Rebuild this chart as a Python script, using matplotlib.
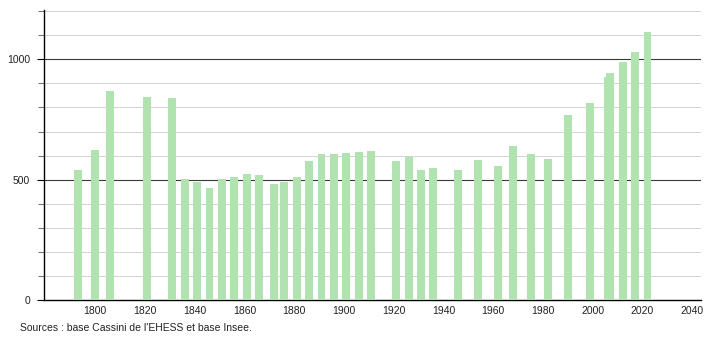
import matplotlib
matplotlib.use("Agg")
import matplotlib.pyplot as plt
from matplotlib.ticker import MultipleLocator

years = [1793, 1800, 1806, 1821, 1831, 1836, 1841, 1846, 1851, 1856,
         1861, 1866, 1872, 1876, 1881, 1886, 1891, 1896, 1901, 1906,
         1911, 1921, 1926, 1931, 1936, 1946, 1954, 1962, 1968, 1975,
         1982, 1990, 1999, 2006, 2007, 2012, 2017, 2022]
population = [540, 623, 868, 843, 838, 501, 489, 464, 501, 510,
              523, 519, 482, 489, 511, 576, 607, 607, 611, 616,
              619, 577, 595, 540, 547, 540, 582, 557, 640, 607,
              584, 767, 817, 928, 942, 987, 1032, 1112]
x_ticks = [1800, 1820, 1840, 1860, 1880, 1900, 1920, 1940, 1960, 1980, 2000, 2020, 2040]
y_ticks = [0, 500, 1000]
source = "Sources : base Cassini de l'EHESS et base Insee."

plt.rcParams['font.family'] = ['Liberation Sans', 'DejaVu Sans']

fig = plt.figure(figsize=(7.1, 3.4), dpi=100)
ax = fig.add_axes([44/710, 40/340, 657/710, 290/340])

ax.bar(years, population, width=3.2, color='#b1e3b0', zorder=3, linewidth=0)

ax.set_xlim(1779.5, 2043.5)
ax.set_ylim(0, 1205)

ax.set_yticks(y_ticks)
ax.yaxis.set_minor_locator(MultipleLocator(100))
ax.set_xticks(x_ticks)
ax.set_xticklabels([str(t) for t in x_ticks])

for v in range(100, 1201, 100):
    if v % 500 == 0:
        ax.axhline(v, color='#3a3a3a', lw=0.8, zorder=2)
    else:
        ax.axhline(v, color='#d2d2d2', lw=0.7, zorder=1)

for s in ['top', 'right']:
    ax.spines[s].set_visible(False)
ax.spines['left'].set_color('#000000')
ax.spines['bottom'].set_color('#000000')
ax.spines['left'].set_linewidth(1.0)
ax.spines['bottom'].set_linewidth(1.0)

ax.tick_params(axis='y', which='major', length=5, width=0.8, labelsize=7.5, pad=5, colors='#000000')
ax.tick_params(axis='y', which='minor', length=4, width=0.6, color='#555555')
ax.tick_params(axis='x', which='both', length=0, labelsize=7.5, pad=4)
ax.tick_params(labelcolor='#222222')

fig.text(20/710, 1 - 328/340, source, fontsize=7.5, color='#222222', va='center', ha='left')

fig.savefig("out.png", dpi=100)
